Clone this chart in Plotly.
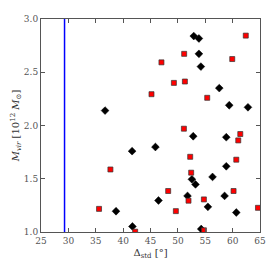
import plotly.graph_objects as go

black_x = [52.9, 53.84, 53.84, 54.2, 57.56, 59.38, 62.8, 52.8, 58.84, 36.7, 41.64, 38.7,
           41.7, 45.9, 58.84, 52.56, 56.33, 53.22, 51.76, 58.53, 46.46, 55.48, 60.67, 54.26]
black_y = [2.84, 2.817, 2.673, 2.553, 2.351, 2.19, 2.171, 1.899, 1.89, 2.14, 1.759, 1.195,
           1.052, 1.798, 1.617, 1.495, 1.517, 1.447, 1.339, 1.339, 1.296, 1.236, 1.183, 1.028]
red_x = [62.4, 51.15, 47.0, 59.93, 49.27, 51.28, 45.18, 55.36, 51.1, 61.4, 37.68, 35.6,
         42.2, 61.03, 52.25, 60.67, 52.43, 48.23, 51.94, 60.17, 54.75, 49.63, 64.63, 54.75]
red_y = [2.844, 2.673, 2.593, 2.624, 2.40, 2.413, 2.294, 2.26, 1.97, 1.92, 1.587, 1.217,
         1.003, 1.86, 1.706, 1.679, 1.557, 1.385, 1.294, 1.385, 1.306, 1.196, 1.227, 1.016]
vline_x = 29.3
x_ticks = [25, 30, 35, 40, 45, 50, 55, 60, 65]
y_ticks = [1.0, 1.5, 2.0, 2.5, 3.0]

font = "DejaVu Serif"
fig = go.Figure()
fig.add_trace(go.Scatter(x=[vline_x, vline_x], y=[1.0, 3.0], mode="lines",
                         line=dict(color="#0000ff", width=1.5), showlegend=False, hoverinfo="skip"))
fig.add_trace(go.Scatter(x=black_x, y=black_y, mode="markers",
                         marker=dict(symbol="diamond", size=6, color="black",
                                     line=dict(color="black", width=0.5)), showlegend=False))
fig.add_trace(go.Scatter(x=red_x, y=red_y, mode="markers",
                         marker=dict(symbol="square", size=5, color="#ff0000",
                                     line=dict(color="#333333", width=0.7)), showlegend=False))

axis_common = dict(showgrid=False, zeroline=False, showline=True, linecolor="#555555", linewidth=1,
                   mirror="ticks", ticks="inside", ticklen=4, tickcolor="#555555",
                   tickfont=dict(family=font, size=9, color="#555555"))
fig.update_xaxes(range=[25, 65], tickvals=x_ticks, ticktext=[str(v) for v in x_ticks],
                 title=dict(text="Δ<sub>std</sub> [°]", font=dict(family=font, size=10, color="#333333"),
                            standoff=4), **axis_common)
fig.update_yaxes(range=[1.0, 3.0], tickvals=y_ticks, ticktext=[f"{v:.1f}" for v in y_ticks],
                 title=dict(text="<i>M</i><sub><i>vir</i></sub> [10<sup>12</sup> <i>M</i><sub>⊙</sub>]",
                            font=dict(family=font, size=10, color="#333333"), standoff=2), **axis_common)
# the page body has an 8px margin, so the figure is 266px and left/top margins are shifted by 8px
fig.update_layout(width=266, height=266, margin=dict(l=33, r=14, t=6, b=42),
                  plot_bgcolor="white", paper_bgcolor="white", font=dict(family=font))
fig.write_html("out.html")
